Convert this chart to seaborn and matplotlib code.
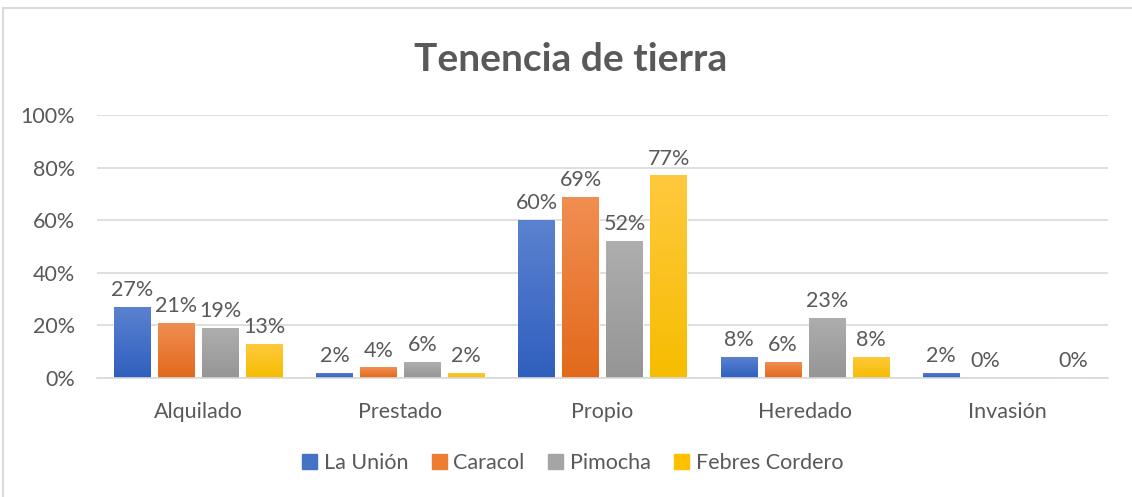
import numpy as np
import pandas as pd
import matplotlib
matplotlib.use("Agg")
import matplotlib.pyplot as plt
import seaborn as sns
from matplotlib.colors import LinearSegmentedColormap, to_rgb
from matplotlib.lines import Line2D

categories = ["Alquilado", "Prestado", "Propio", "Heredado", "Invasión"]
series = ["La Unión", "Caracol", "Pimocha", "Febres Cordero"]
la_union = [0.27, 0.02, 0.60, 0.08, 0.02]
caracol = [0.21, 0.04, 0.69, 0.06, 0.00]
pimocha = [0.19, 0.06, 0.52, 0.23, np.nan]
febres = [0.13, 0.02, 0.77, 0.08, 0.00]
yticks = [0, 0.2, 0.4, 0.6, 0.8, 1.0]
ytick_labels = ["0%", "20%", "40%", "60%", "80%", "100%"]

rows = []
for name, vals in zip(series, [la_union, caracol, pimocha, febres]):
    for c, v in zip(categories, vals):
        rows.append({"cat": c, "serie": name, "val": v})
df = pd.DataFrame(rows)

base = ["#4472C4", "#ED7D31", "#A5A5A5", "#FFC000"]
grads = {
    "#4472C4": ("#5B82D0", "#2F5FBE"),
    "#ED7D31": ("#F18E52", "#E2691A"),
    "#A5A5A5": ("#AEAEAE", "#959595"),
    "#FFC000": ("#FFC93E", "#F6BD00"),
}
TXT = "#595959"
FS = 15.5

sns.set_theme(style="white")
plt.rcParams["font.family"] = ["Lato", "DejaVu Sans"]

fig = plt.figure(figsize=(11.32, 4.97), dpi=100)
ax = fig.add_axes([0.0857, 0.2394, 0.8933, 0.5292])

sns.barplot(data=df, x="cat", y="val", hue="serie", order=categories,
            hue_order=series, palette=base, width=0.87, gap=0.17,
            errorbar=None, ax=ax, legend=False, saturation=1)

ax.set_ylim(0, 1.0)
ax.set_xlim(-0.5, 4.5)

# gradient fill of bars
for p in list(ax.patches):
    h = p.get_height()
    if not np.isfinite(h) or h <= 0:
        continue
    fc = matplotlib.colors.to_hex(p.get_facecolor())
    key = None
    for b in base:
        if np.allclose(to_rgb(b), to_rgb(fc), atol=0.02):
            key = b
    if key is None:
        continue
    top, bot = grads[key]
    cmap = LinearSegmentedColormap.from_list("g", [bot, top])
    x0, w = p.get_x(), p.get_width()
    grad = np.linspace(0, 1, 100).reshape(-1, 1)
    im = ax.imshow(grad, cmap=cmap, origin="lower", aspect="auto",
                   extent=(x0, x0 + w, 0, h), zorder=p.get_zorder() + 0.1)
    im.set_clip_path(p)
ax.set_ylim(0, 1.0)
ax.set_xlim(-0.5, 4.5)

for cont in ax.containers:
    ax.bar_label(cont, fmt=lambda v: f"{v*100:.0f}%", padding=5,
                 fontsize=FS, color=TXT)

ax.set_yticks(yticks)
ax.set_yticklabels(ytick_labels)
ax.yaxis.grid(True, color="#D9D9D9", linewidth=1.2)
ax.set_axisbelow(True)
for s in ["left", "right", "top"]:
    ax.spines[s].set_visible(False)
ax.spines["bottom"].set_color("#D9D9D9")
ax.spines["bottom"].set_linewidth(1.2)
ax.tick_params(axis="y", length=0, pad=16, labelsize=FS, labelcolor=TXT)
ax.tick_params(axis="x", length=0, pad=17, labelsize=FS, labelcolor=TXT)
ax.set_xlabel("")
ax.set_ylabel("")

fig.text(0.504, 0.880, "Tenencia de tierra", ha="center", va="center",
         fontsize=28, fontweight="bold", color=TXT)

handles = [plt.Rectangle((0, 0), 1, 1, color=c) for c in base]
fig.legend(handles, series, loc="center", bbox_to_anchor=(0.506, 0.068),
           ncol=4, frameon=False, fontsize=FS, labelcolor=TXT,
           handlelength=0.7, handleheight=0.7, handletextpad=0.3,
           columnspacing=1.1)

# chart border (left and top visible)
fig.add_artist(Line2D([0.003, 0.003], [0, 0.984], color="#D9D9D9", lw=1.5,
                      transform=fig.transFigure))
fig.add_artist(Line2D([0.003, 1.0], [0.984, 0.984], color="#D9D9D9", lw=1.5,
                      transform=fig.transFigure))

fig.savefig("out.png", dpi=100)
